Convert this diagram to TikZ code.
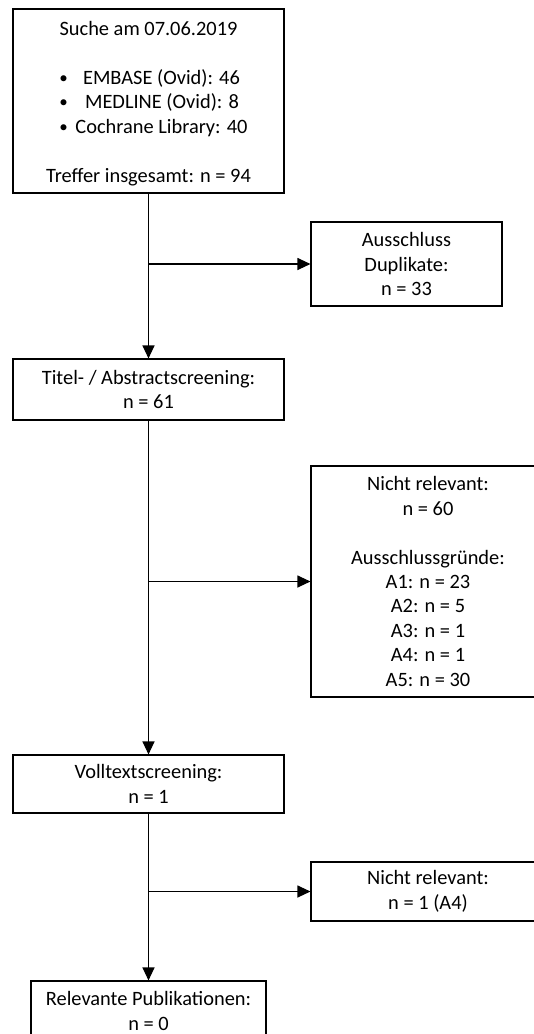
\documentclass[tikz,border=0pt]{standalone}
\usepackage{fontspec}
\setmainfont{Carlito}
\usetikzlibrary{arrows.meta}
\begin{document}
\begin{tikzpicture}[x=1pt,y=-1pt,
  box/.style={draw=black,line width=1.1pt,rectangle,inner sep=0pt,align=center,font=\fontsize{20.4}{24.4}\selectfont},
  txt/.style={inner sep=0pt,anchor=base,font=\fontsize{20.4}{24.4}\selectfont},
  bullet/.style={inner sep=0pt,anchor=base,font=\fontsize{17}{20}\selectfont},
  flow/.style={line width=1.1pt,-{Triangle[length=13pt,width=12pt]}}]
\useasboundingbox (0,0) rectangle (534,1034);
\clip (0,0) rectangle (534,1034);
\fill[white] (0,0) rectangle (534,1034);
% boxes
\node[box, minimum width=271pt, minimum height=184pt] (b1) at (148.5,101) {};
\node[txt] (t1) at (148.5,35.5) {Suche am 07.06.2019};
\node[bullet] (u1) at (63.5,83) {•};
\node[txt] (t2) at (161.5,84) {EMBASE (Ovid): 46};
\node[bullet] (u2) at (63.5,107.5) {•};
\node[txt] (t3) at (162,108.5) {MEDLINE (Ovid): 8};
\node[bullet] (u3) at (63.5,132) {•};
\node[txt] (t4) at (161.5,133) {Cochrane Library: 40};
\node[txt] (t5) at (148.5,182) {Treffer insgesamt: n = 94};

\node[box, minimum width=191pt, minimum height=84pt] (b2) at (406.5,264) {Ausschluss\\Duplikate:\\n = 33};
\node[box, minimum width=271pt, minimum height=61pt] (b3) at (148.5,389.5) {Titel- / Abstractscreening:\\n = 61};
\node[box, minimum width=234pt, minimum height=231pt] (b4) at (428,581.5) {Nicht relevant:\\n = 60\\[24.4pt]Ausschlussgründe:\\A1: n = 23\\A2: n = 5\\A3: n = 1\\A4: n = 1\\A5: n = 30};
\node[box, minimum width=271pt, minimum height=58pt] (b5) at (148.5,784) {Volltextscreening:\\n = 1};
\node[box, minimum width=234pt, minimum height=59pt] (b6) at (428,891.5) {Nicht relevant:\\n = 1 (A4)};
\node[box, minimum width=235pt, minimum height=60pt] (b7) at (148.5,1011) {Relevante Publikationen:\\n = 0};
% connectors
\coordinate (j1) at (148.5,264);
\coordinate (j2) at (148.5,581.5);
\coordinate (j3) at (148.5,891.5);
\draw[flow] (b1.south) -- (b3.north);
\draw[flow] (j1) -- (b2.west);
\draw[flow] (b3.south) -- (b5.north);
\draw[flow] (j2) -- (b4.west);
\draw[flow] (b5.south) -- (b7.north);
\draw[flow] (j3) -- (b6.west);
\end{tikzpicture}
\end{document}
